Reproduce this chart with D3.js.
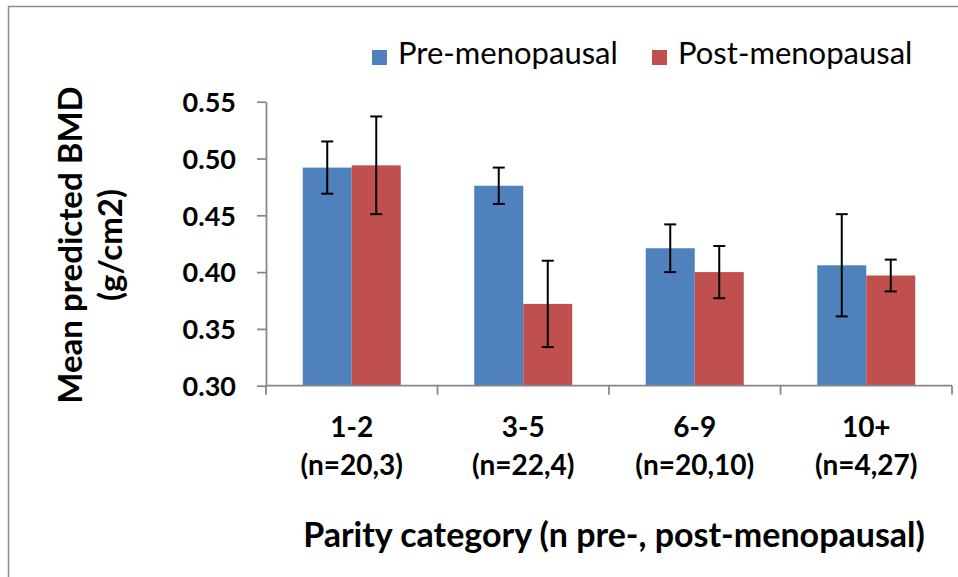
<!DOCTYPE html>
<html>
<head>
<meta charset="utf-8">
<script src="https://cdn.jsdelivr.net/npm/d3@7"></script>
<style>
  body { margin: 0; background: #fff; }
  text { font-family: Lato, "Open Sans", sans-serif; fill: #000; }
</style>
</head>
<body>
<div id="chart"></div>
<script>
// data
var categories = ["1-2", "3-5", "6-9", "10+"];
var sampleLabels = ["(n=20,3)", "(n=22,4)", "(n=20,10)", "(n=4,27)"];
var series = ["Pre-menopausal", "Post-menopausal"];
var preMean = [0.492, 0.476, 0.421, 0.406];
var preErr = [0.023, 0.016, 0.021, 0.045];
var postMean = [0.494, 0.372, 0.400, 0.397];
var postErr = [0.043, 0.038, 0.023, 0.014];
var yTicks = [0.30, 0.35, 0.40, 0.45, 0.50, 0.55];

var W = 958, H = 577;
var margin = {top: 101.7, right: 6, bottom: 191.3, left: 266},
    width = W - margin.left - margin.right,
    height = H - margin.top - margin.bottom;

var svg = d3.select("#chart")
    .append("svg")
    .attr("width", W)
    .attr("height", H);

// chart area border (runs off the right/bottom edge)
svg.append("rect")
    .attr("x", 8.5).attr("y", 6.5)
    .attr("width", 1000).attr("height", 1000)
    .attr("fill", "none")
    .attr("stroke", "#8a8a8a")
    .attr("stroke-width", 1.5);

var g = svg.append("g")
    .attr("transform", "translate(" + margin.left + "," + margin.top + ")");

var x = d3.scaleBand().domain(categories).range([0, width]).padding(0);
var xSub = d3.scaleBand().domain(series).range([0, x.bandwidth()])
    .paddingInner(0).paddingOuter(0.75);
var y = d3.scaleLinear().domain([0.30, 0.55]).range([height, 0]);
var color = d3.scaleOrdinal().domain(series).range(["#4f81bd", "#c0504d"]);

var rows = categories.map(function(c, i) {
  return {cat: c, vals: [
    {key: series[0], mean: preMean[i], err: preErr[i]},
    {key: series[1], mean: postMean[i], err: postErr[i]}
  ]};
});

// bars
var groups = g.selectAll("g.bar-group").data(rows).enter().append("g")
    .attr("class", "bar-group")
    .attr("transform", d => "translate(" + x(d.cat) + ",0)");

groups.selectAll("rect")
    .data(d => d.vals)
    .enter().append("rect")
    .attr("x", d => xSub(d.key))
    .attr("y", d => y(d.mean))
    .attr("width", xSub.bandwidth())
    .attr("height", d => height - y(d.mean))
    .attr("fill", d => color(d.key));

// error bars
var capW = 12;
var eb = groups.selectAll("g.err").data(d => d.vals).enter().append("g")
    .attr("class", "err")
    .attr("stroke", "#000")
    .attr("stroke-width", 2);
eb.append("line")
    .attr("x1", d => xSub(d.key) + xSub.bandwidth() / 2)
    .attr("x2", d => xSub(d.key) + xSub.bandwidth() / 2)
    .attr("y1", d => y(d.mean + d.err))
    .attr("y2", d => y(d.mean - d.err));
eb.append("line")
    .attr("x1", d => xSub(d.key) + xSub.bandwidth() / 2 - capW / 2)
    .attr("x2", d => xSub(d.key) + xSub.bandwidth() / 2 + capW / 2)
    .attr("y1", d => y(d.mean + d.err))
    .attr("y2", d => y(d.mean + d.err));
eb.append("line")
    .attr("x1", d => xSub(d.key) + xSub.bandwidth() / 2 - capW / 2)
    .attr("x2", d => xSub(d.key) + xSub.bandwidth() / 2 + capW / 2)
    .attr("y1", d => y(d.mean - d.err))
    .attr("y2", d => y(d.mean - d.err));

// y axis
var yAxis = g.append("g")
    .call(d3.axisLeft(y).tickValues(yTicks).tickFormat(d3.format(".2f"))
      .tickSize(9).tickSizeOuter(0).tickPadding(21));
yAxis.selectAll("path, line").attr("stroke", "#868686").attr("stroke-width", 1.75);
yAxis.selectAll("text")
    .style("font-size", "27px").style("font-weight", "bold")
    .attr("dy", "0.36em");

// x axis: ticks at category boundaries
var xAxis = g.append("g").attr("transform", "translate(0," + height + ")");
xAxis.append("line")
    .attr("x1", 0).attr("x2", width)
    .attr("stroke", "#868686").attr("stroke-width", 1.75);
xAxis.selectAll("line.tick")
    .data(categories.concat(["end"]))
    .enter().append("line")
    .attr("class", "tick")
    .attr("x1", (d, i) => i < categories.length ? x(d) : width)
    .attr("x2", (d, i) => i < categories.length ? x(d) : width)
    .attr("y1", 0).attr("y2", 9)
    .attr("stroke", "#868686").attr("stroke-width", 1.75);

var catLabels = xAxis.selectAll("text.cat")
    .data(categories)
    .enter().append("text")
    .attr("class", "cat")
    .attr("text-anchor", "middle")
    .style("font-size", "28px").style("font-weight", "bold")
    .attr("transform", d => "translate(" + (x(d) + x.bandwidth() / 2) + ",0)");
catLabels.append("tspan").attr("x", 0).attr("y", 51).text(d => d);
catLabels.append("tspan").attr("x", 0).attr("y", 89).text((d, i) => sampleLabels[i]);

// axis titles
g.append("text")
    .attr("text-anchor", "middle")
    .attr("x", width / 2 + 5)
    .attr("y", height + 161)
    .style("font-size", "34px").style("font-weight", "bold")
    .text("Parity category (n pre-, post-menopausal)");

var yTitle = svg.append("text")
    .attr("text-anchor", "middle")
    .attr("transform", "translate(82,245) rotate(-90)")
    .style("font-size", "33px").style("font-weight", "bold");
yTitle.append("tspan").attr("x", 0).attr("y", 0).text("Mean predicted BMD");
yTitle.append("tspan").attr("x", 0).attr("y", 40).text("(g/cm2)");

// legend
var legendX = [372, 652];
var legend = svg.selectAll("g.legend").data(series).enter().append("g")
    .attr("class", "legend")
    .attr("transform", (d, i) => "translate(" + legendX[i] + ",50)");
legend.append("rect")
    .attr("width", 15).attr("height", 15)
    .attr("fill", d => color(d));
legend.append("text")
    .attr("x", 26).attr("y", 13.5)
    .style("font-size", "31px")
    .text(d => d);
</script>
</body>
</html>
